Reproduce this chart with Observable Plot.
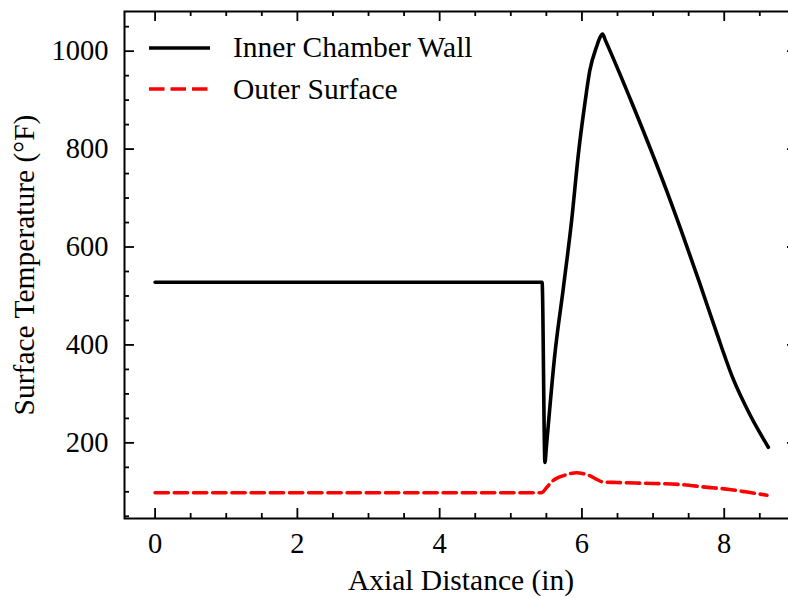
<!DOCTYPE html>
<html>
<head>
<meta charset="utf-8">
<script src="https://cdn.jsdelivr.net/npm/d3@7"></script>
<script src="https://cdn.jsdelivr.net/npm/@observablehq/plot@0.6"></script>
<style>
  html, body { margin: 0; padding: 0; background: white; overflow: hidden; }
  #wrap { width: 788px; height: 598px; overflow: hidden; position: relative; }
  #wrap svg { max-width: none !important; width: 797px !important; height: 598px !important; }
</style>
</head>
<body>
<div id="wrap"></div>
<script>
// ---- data ----
const innerX = [0, 5.44, 5.48, 5.50, 5.62, 5.74, 5.855, 5.95, 6.04, 6.11, 6.21, 6.25, 6.29, 6.33, 6.72, 7.19, 7.47, 7.66, 7.89, 8.13, 8.36, 8.62];
const innerT = [528, 528, 160, 192, 382, 518, 654, 790, 892, 960, 1011, 1027, 1035, 1022, 888, 715, 603, 524, 426, 329, 258, 191];
const outerX = [0, 5.43, 5.50, 5.57, 5.65, 5.74, 5.83, 5.925, 6.02, 6.11, 6.20, 6.30, 6.49, 7.0, 7.38, 7.77, 8.0, 8.3, 8.6];
const outerT = [98, 98, 108, 120, 128, 133, 137, 139, 137, 133, 126, 120, 119, 117, 115, 109, 106, 100, 93];
const seriesNames = ["Inner Chamber Wall", "Outer Surface"];
const xMajor = [0, 2, 4, 6, 8];
const xMinor = d3.range(0.5, 9.01, 0.5).filter(v => !xMajor.includes(v));
const yMajor = [200, 400, 600, 800, 1000];
const yMinor = d3.range(50, 1051, 50).filter(v => !yMajor.includes(v));
const xLabel = "Axial Distance (in)";
const yLabel = "Surface Temperature (°F)";

const inner = innerX.map((x, i) => ({x, t: innerT[i]}));
const outer = outerX.map((x, i) => ({x, t: outerT[i]}));

// ---- layout ----
const W = 797, H = 598, mL = 124, mR = 0, mT = 11, mB = 80;
const fW = W - mL - mR, fH = H - mT - mB;
const MAJ = 10, MIN = 5, TW = 1.8;
const font = "'Liberation Serif', 'Times New Roman', serif";
const LFS = 29.5;

const chart = Plot.plot({
  width: W, height: H,
  marginLeft: mL, marginRight: mR, marginTop: mT, marginBottom: mB,
  x: {domain: [-0.43, 9.03]},
  y: {domain: [45.5, 1081]},
  style: {fontFamily: font, fontSize: "28px", color: "black", background: "white", maxWidth: "none"},
  marks: [
    Plot.tickX(xMajor, {x: d => d, insetTop: fH - MAJ, stroke: "black", strokeWidth: TW}),
    Plot.tickX(xMinor, {x: d => d, insetTop: fH - MIN, stroke: "black", strokeWidth: TW}),
    Plot.tickX(xMajor, {x: d => d, insetBottom: fH - MAJ, stroke: "black", strokeWidth: TW}),
    Plot.tickX(xMinor, {x: d => d, insetBottom: fH - MIN, stroke: "black", strokeWidth: TW}),
    Plot.tickY(yMajor, {y: d => d, insetRight: fW - MAJ, stroke: "black", strokeWidth: TW}),
    Plot.tickY(yMinor, {y: d => d, insetRight: fW - MIN, stroke: "black", strokeWidth: TW}),
    Plot.tickY(yMajor, {y: d => d, insetLeft: fW - MAJ, stroke: "black", strokeWidth: TW}),
    Plot.tickY(yMinor, {y: d => d, insetLeft: fW - MIN, stroke: "black", strokeWidth: TW}),
    Plot.axisX(xMajor, {anchor: "bottom", tickSize: 0, tickPadding: 14, fontSize: 28.5, label: null, tickFormat: d => String(d)}),
    Plot.axisY(yMajor, {anchor: "left", tickSize: 0, tickPadding: 16, fontSize: 28.5, label: null, tickFormat: d => String(d)}),
    Plot.frame({stroke: "black", strokeWidth: 2}),
    Plot.line(outer, {x: "x", y: "t", stroke: "red", strokeWidth: 3.6, strokeDasharray: "13.3,5.9", curve: "monotone-x"}),
    Plot.line(inner, {x: "x", y: "t", stroke: "black", strokeWidth: 3.6, curve: "monotone-x", strokeLinejoin: "round"}),
    Plot.text([xLabel], {frameAnchor: "bottom", dy: 62, lineAnchor: "middle", textAnchor: "middle", fontSize: LFS, fill: "black"}),
    Plot.text([yLabel], {frameAnchor: "left", dx: -100, rotate: -90, lineAnchor: "middle", textAnchor: "middle", fontSize: LFS, fill: "black"})
  ]
});

// legend
const g = d3.select(chart).append("g").attr("font-family", font).attr("font-size", LFS).attr("text-anchor", "start");
const rows = [
  {name: seriesNames[0], color: "black", dash: null, ly: 48, ty: 57},
  {name: seriesNames[1], color: "red", dash: "15.5,6", ly: 89, ty: 99}
];
rows.forEach(r => {
  g.append("line").attr("x1", 149).attr("x2", 210).attr("y1", r.ly).attr("y2", r.ly)
    .attr("stroke", r.color).attr("stroke-width", 3.6)
    .attr("stroke-dasharray", r.dash);
  g.append("text").attr("x", 233).attr("y", r.ty).attr("fill", "black").attr("text-anchor", "start").text(r.name);
});

chart.style.maxWidth = "none";
document.getElementById("wrap").appendChild(chart);
</script>
</body>
</html>
